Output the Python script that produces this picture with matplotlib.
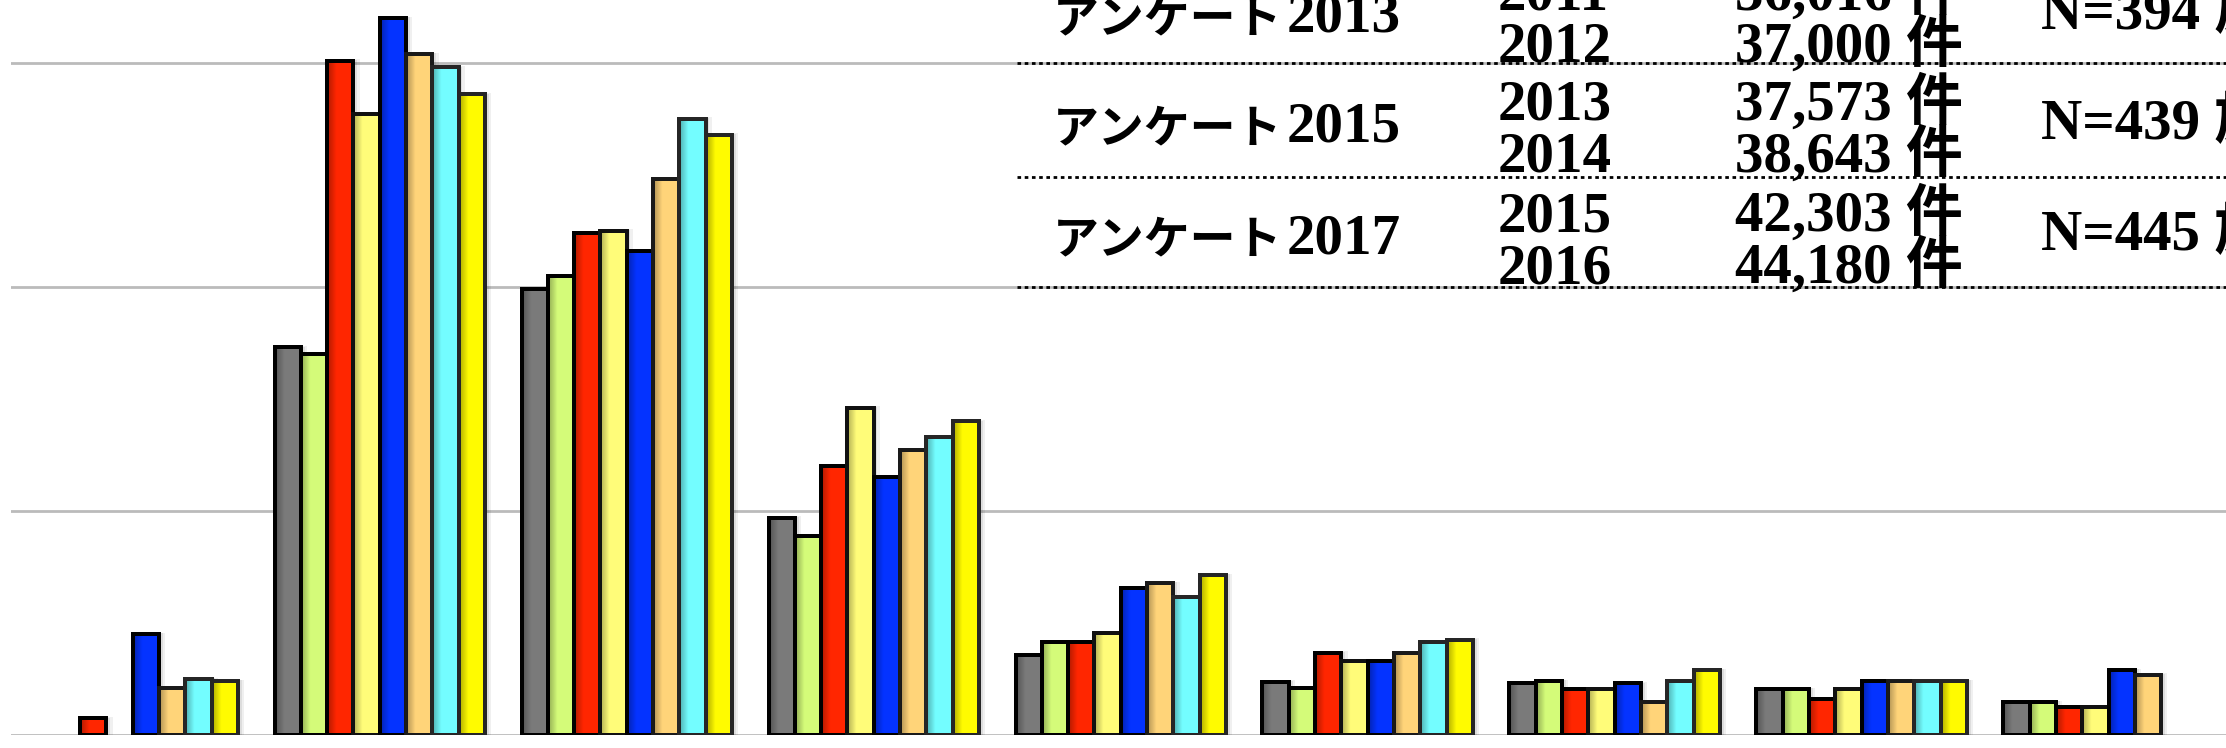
import numpy as np
import matplotlib
matplotlib.use("Agg")
import matplotlib.pyplot as plt
from matplotlib.patches import Rectangle
from matplotlib.lines import Line2D

nan = np.nan

# ---- data -------------------------------------------------------------
categories = ["1", "2", "3", "4", "5", "6", "7", "8", "9"]
series_names = ["2009", "2010", "2011", "2012", "2013", "2014", "2015", "2016"]

s2009 = [nan, 17.3, 19.9, 9.7, 3.56, 2.37, 2.3, 2.05, 1.47]
s2010 = [nan, 17.0, 20.5, 8.9, 4.16, 2.11, 2.4, 2.05, 1.47]
s2011 = [0.74, 30.1, 22.4, 12.0, 4.16, 3.68, 2.04, 1.6, 1.25]
s2012 = [nan, 27.7, 22.5, 14.6, 4.54, 3.31, 2.04, 2.05, 1.25]
s2013 = [4.5, 32.0, 21.6, 11.5, 6.56, 3.31, 2.3, 2.4, 2.9]
s2014 = [2.1, 30.4, 24.8, 12.7, 6.78, 3.68, 1.47, 2.4, 2.68]
s2015 = [2.5, 29.8, 27.5, 13.3, 6.18, 4.16, 2.4, 2.4, nan]
s2016 = [2.4, 28.6, 26.8, 14.0, 7.13, 4.25, 2.9, 2.4, nan]
series = [s2009, s2010, s2011, s2012, s2013, s2014, s2015, s2016]

colors = ["#7a7a7a", "#d4fb79", "#ff2600", "#fffc79",
          "#0433ff", "#ffd479", "#73fdff", "#fffb00"]
edges = ["#000000", "#000000", "#000000", "#111111",
         "#000000", "#1a1a1a", "#262626", "#262626"]

survey_kana = ["アンケート", "アンケート", "アンケート"]
survey_label_years = ["2013", "2015", "2017"]
survey_years = [["2011", "2012"], ["2013", "2014"], ["2015", "2016"]]
survey_counts = [["36,016 件", "37,000 件"], ["37,573 件", "38,643 件"],
                 ["42,303 件", "44,180 件"]]
survey_n = ["N=394 施設", "N=439 施設", "N=445 施設"]

# ---- figure -----------------------------------------------------------
W, H = 2226, 748
fig = plt.figure(figsize=(W / 100, H / 100), dpi=100)
fig.patch.set_facecolor("white")
ax = fig.add_axes([11 / W, 13 / H, 1 - 11 / W, 1 - 13 / H])
ax.set_xlim(-0.493, 8.475)
ax.set_ylim(0, 32.81)
ax.set_yticks([0, 10, 20, 30])
ax.yaxis.grid(True, color="#bbbbbb", linewidth=2.0, zorder=0)
ax.set_axisbelow(True)
for sp in ax.spines.values():
    sp.set_visible(False)
ax.tick_params(left=False, bottom=False, labelleft=False, labelbottom=False)

x = np.arange(len(categories))
bw = 0.1065
n = len(series)
lw_edge = 2.8

# horizontal shading gradient (darker at the left edge of each bar)
grad = np.linspace(0, 1, 64)
alpha_row = np.clip(0.32 * (1 - grad / 0.35), 0, None)
grad_img = np.zeros((1, 64, 4))
grad_img[0, :, 3] = alpha_row

for i, (vals, c, ec) in enumerate(zip(series, colors, edges)):
    xs = x + (i - (n - 1) / 2) * bw
    v = np.array(vals, dtype=float)
    # soft drop shadow
    for dx, a, grow in [(0.014, 0.06, 0.022), (0.009, 0.08, 0.012)]:
        ax.bar(xs + dx, v + grow * 3, width=bw + grow, color="black", alpha=a,
               linewidth=0, zorder=2)
    bars = ax.bar(xs, v, width=bw, color=c, edgecolor=ec, linewidth=lw_edge,
                  zorder=3, label=series_names[i])
    for b, val in zip(bars, v):
        if np.isnan(val):
            continue
        x0 = b.get_x()
        im = ax.imshow(grad_img, extent=(x0, x0 + bw, 0, val), aspect="auto",
                       zorder=3.5, interpolation="bilinear")
        im.set_clip_path(b)
        ax.add_patch(Rectangle((x0, 0), bw, val, fill=False, edgecolor=ec,
                               linewidth=lw_edge, zorder=4))

ax.set_xlim(-0.493, 8.475)
ax.set_ylim(0, 32.81)

# ---- survey table (top right) -----------------------------------------
fam_num = ["Liberation Serif", "Noto Sans CJK JP"]
fam_kana = ["Noto Sans CJK JP"]
fs_num = 41
fs_kana = 33


def fx(px):
    return px / W


def fy(py):
    return 1 - py / H


for yline in [63, 177, 287]:
    fig.add_artist(Line2D([fx(1017), 1.0], [fy(yline), fy(yline)],
                          color="black", linewidth=2.0,
                          linestyle=(0, (1.3, 1.3))))

row_baselines = [32, 142, 253]
for r, yb in enumerate(row_baselines):
    fig.text(fx(1053), fy(yb), survey_kana[r], fontsize=fs_kana,
             family=fam_kana, fontweight="bold", ha="left", va="baseline")
    fig.text(fx(1287), fy(yb), survey_label_years[r], fontsize=fs_num,
             family=fam_num, fontweight="bold", ha="left", va="baseline")
    for k, off in enumerate([-22, 30]):
        fig.text(fx(1498), fy(yb + off), survey_years[r][k], fontsize=fs_num,
                 family=fam_num, fontweight="bold", ha="left", va="baseline")
        fig.text(fx(1735), fy(yb + off), survey_counts[r][k], fontsize=fs_num,
                 family=fam_num, fontweight="bold", ha="left", va="baseline")
    fig.text(fx(2041), fy(yb - 3), survey_n[r], fontsize=fs_num,
             family=fam_num, fontweight="bold", ha="left", va="baseline")

fig.savefig("out.png", dpi=100, facecolor="white")
